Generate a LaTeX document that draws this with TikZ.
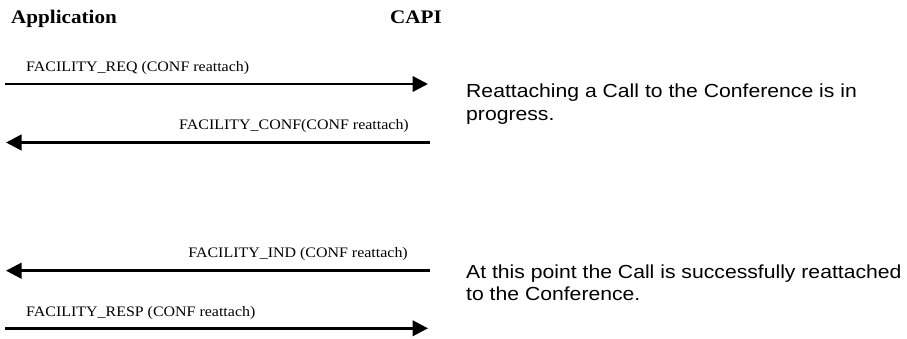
\documentclass[tikz,border=0pt]{standalone}
\usepackage{fontspec}
\usetikzlibrary{arrows.meta}
\newfontfamily\tnr[FakeStretch=1.1]{Liberation Serif}
\newfontfamily\arl[FakeStretch=1.12]{Liberation Sans}
\begin{document}
\begin{tikzpicture}[x=1pt,y=-1pt,
  hdr/.style={inner sep=0pt,anchor=base west,font=\tnr\bfseries\fontsize{19.2}{22}\selectfont},
  msglbl/.style={inner sep=0pt,font=\tnr\fontsize{14.5}{17}\selectfont},
  note/.style={inner sep=0pt,anchor=base west,font=\arl\fontsize{18.9}{23}\selectfont},
  msg/.style={line width=2.6pt,-{Triangle[length=15.5pt,width=15.5pt]}}]
\useasboundingbox (0,0) rectangle (907,338);
\node[hdr] (app) at (11,23.3) {Application};
\node[hdr] (capi) at (390,23.3) {CAPI};
% message 1
\coordinate (m1a) at (5,84);
\coordinate (m1b) at (428,84);
\draw[msg] (m1a) -- (m1b);
\node[msglbl,anchor=base west] (l1) at (26,71.5) {FACILITY\_REQ (CONF reattach)};
% message 2
\coordinate (m2a) at (430,142.5);
\coordinate (m2b) at (6,142.5);
\draw[msg] (m2a) -- (m2b);
\node[msglbl,anchor=base east] (l2) at (409,129.3) {FACILITY\_CONF(CONF reattach)};
% message 3
\coordinate (m3a) at (430,270.7);
\coordinate (m3b) at (6,270.7);
\draw[msg] (m3a) -- (m3b);
\node[msglbl,anchor=base east] (l3) at (408,257.7) {FACILITY\_IND (CONF reattach)};
% message 4
\coordinate (m4a) at (5,328.3);
\coordinate (m4b) at (428,328.3);
\draw[msg] (m4a) -- (m4b);
\node[msglbl,anchor=base west] (l4) at (26,316) {FACILITY\_RESP (CONF reattach)};
% notes
\node[note] (n1a) at (466,97.3) {Reattaching a Call to the Conference is in};
\node[note] (n1b) at (466,120.5) {progress.};
\node[note] (n2a) at (466,278.3) {At this point the Call is successfully reattached};
\node[note] (n2b) at (466,300.5) {to the Conference.};
\end{tikzpicture}
\end{document}
